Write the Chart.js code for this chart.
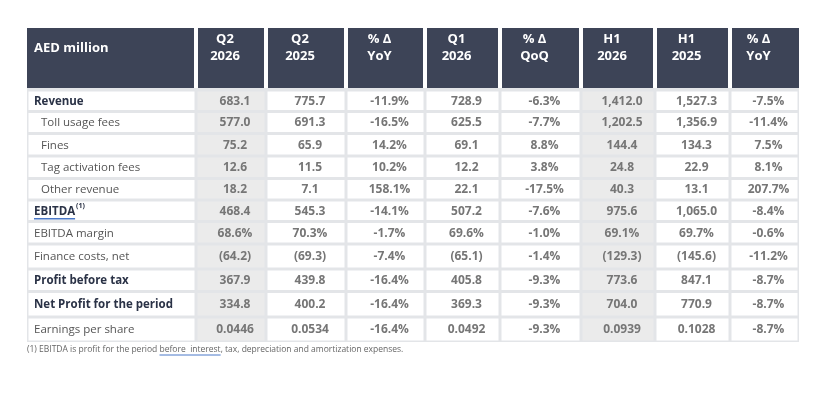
<!DOCTYPE html>
<html>
<head>
<meta charset="utf-8">
<script src="https://cdn.jsdelivr.net/npm/chart.js@4.4.1/dist/chart.umd.min.js"></script>
<style>
  html, body { margin: 0; padding: 0; background: #fff; }
  canvas { display: block; }
</style>
</head>
<body>
<canvas id="results-table" width="838" height="412"></canvas>
<script>
// column headers and row labels
const colHeaders = ['AED million', 'Q2\n2026', 'Q2\n2025', '% Δ\nYoY', 'Q1\n2026', '% Δ\nQoQ', 'H1\n2026', 'H1\n2025', '% Δ\nYoY'];
const rowLabels = ['Revenue', 'Toll usage fees', 'Fines', 'Tag activation fees', 'Other revenue', 'EBITDA',
  'EBITDA margin', 'Finance costs, net', 'Profit before tax', 'Net Profit for the period', 'Earnings per share'];

// values per column (AED million, % or AED per share)
const q2_2026 = [683.1, 577.0, 75.2, 12.6, 18.2, 468.4, 68.6, -64.2, 367.9, 334.8, 0.0446];
const q2_2025 = [775.7, 691.3, 65.9, 11.5, 7.1, 545.3, 70.3, -69.3, 439.8, 400.2, 0.0534];
const yoy_q2 = [-11.9, -16.5, 14.2, 10.2, 158.1, -14.1, -1.7, -7.4, -16.4, -16.4, -16.4];
const q1_2026 = [728.9, 625.5, 69.1, 12.2, 22.1, 507.2, 69.6, -65.1, 405.8, 369.3, 0.0492];
const qoq = [-6.3, -7.7, 8.8, 3.8, -17.5, -7.6, -1.0, -1.4, -9.3, -9.3, -9.3];
const h1_2026 = [1412.0, 1202.5, 144.4, 24.8, 40.3, 975.6, 69.1, -129.3, 773.6, 704.0, 0.0939];
const h1_2025 = [1527.3, 1356.9, 134.3, 22.9, 13.1, 1065.0, 69.7, -145.6, 847.1, 770.9, 0.1028];
const yoy_h1 = [-7.5, -11.4, 7.5, 8.1, 207.7, -8.4, -0.6, -11.2, -8.7, -8.7, -8.7];

const rowKind = ['amt', 'amt', 'amt', 'amt', 'amt', 'amt', 'pct', 'amt', 'amt', 'amt', 'eps'];
const boldRows = [true, false, false, false, false, true, false, false, true, true, false];
const indentRows = [0, 1, 1, 1, 1, 0, 0, 0, 0, 0, 0];

const footnote = ['(1) EBITDA is profit for the period ', 'before  interest', ', tax, depreciation and amortization expenses.'];

// layout (scale units)
const colWidths = [169, 70, 80, 79, 75, 81, 74, 75, 69];
const headerHeight = 60;
const headerGap = 2;
const rowHeights = [21.5, 22, 22.5, 22.5, 21.5, 21.5, 22.5, 25, 22.5, 25.5, 25];
const highlightCols = [1, 6];

const FONT = '"Open Sans", "Noto Sans", sans-serif';

function fmtAmount(v, kind) {
  if (kind === 'eps') return v.toFixed(4);
  if (kind === 'pct') return v.toFixed(1) + '%';
  const s = Math.abs(v).toLocaleString('en-US', { minimumFractionDigits: 1, maximumFractionDigits: 1 });
  return v < 0 ? '(' + s + ')' : s;
}
function fmtChange(v) {
  return v.toFixed(1) + '%';
}

const columns = [
  { values: q2_2026, change: false },
  { values: q2_2025, change: false },
  { values: yoy_q2, change: true },
  { values: q1_2026, change: false },
  { values: qoq, change: true },
  { values: h1_2026, change: false },
  { values: h1_2025, change: false },
  { values: yoy_h1, change: true }
];

const totalWidth = colWidths.reduce((a, b) => a + b, 0);
const totalHeight = headerHeight + headerGap + rowHeights.reduce((a, b) => a + b, 0);

const tablePlugin = {
  id: 'tableCells',
  afterDraw(chart) {
    const { ctx, scales: { x, y } } = chart;
    const px = v => x.getPixelForValue(v);
    const py = v => y.getPixelForValue(v);
    const edges = [0];
    colWidths.forEach(w => edges.push(edges[edges.length - 1] + w));
    const rowTops = [];
    let acc = headerHeight + headerGap;
    rowHeights.forEach(h => { rowTops.push(acc); acc += h; });
    const last = colWidths.length - 1;

    ctx.save();
    // header cells
    ctx.fillStyle = '#3d4457';
    for (let c = 0; c <= last; c++) {
      const l = px(edges[c]) + (c > 0 ? 2 : 0);
      const r = px(edges[c + 1]) - (c < last ? 2 : 0);
      ctx.fillRect(l, py(0), r - l, py(headerHeight) - py(0));
    }
    // header text
    ctx.fillStyle = '#ffffff';
    ctx.font = 'bold 13px ' + FONT;
    ctx.textBaseline = 'middle';
    for (let c = 0; c <= last; c++) {
      const lines = colHeaders[c].split('\n');
      if (c === 0) {
        ctx.textAlign = 'left';
        ctx.fillText(lines[0], px(edges[0]) + 7, py(20));
      } else {
        ctx.textAlign = 'center';
        const cx = (px(edges[c]) + px(edges[c + 1])) / 2 - 6;
        lines.forEach((t, i) => ctx.fillText(t, cx, py(11 + i * 17.5)));
      }
    }

    // table background
    ctx.fillStyle = '#e3e5e8';
    ctx.fillRect(px(0), py(headerHeight), px(totalWidth) - px(0), py(totalHeight) - py(headerHeight));

    // body cells
    for (let r = 0; r < rowLabels.length; r++) {
      const top = py(rowTops[r]) + 1.5;
      const bot = py(rowTops[r] + rowHeights[r]) - 1.5;
      for (let c = 0; c <= last; c++) {
        const l = px(edges[c]) + 1.5;
        const rr = px(edges[c + 1]) - 1.5;
        ctx.fillStyle = highlightCols.includes(c) ? '#ebebeb' : '#ffffff';
        ctx.fillRect(l, top, rr - l, bot - top);
      }
      const cy = (top + bot) / 2 + 0.5;
      // row label
      ctx.textAlign = 'left';
      ctx.font = (boldRows[r] ? 'bold ' : '') + '11.5px ' + FONT;
      ctx.fillStyle = boldRows[r] ? '#2a3246' : '#555555';
      const lx = px(0) + 7 + indentRows[r] * 7;
      ctx.fillText(rowLabels[r], lx, cy);
      if (rowLabels[r] === 'EBITDA') {
        const w = ctx.measureText(rowLabels[r]).width;
        ctx.font = 'bold 7px ' + FONT;
        ctx.fillText('(1)', lx + w + 1, cy - 5);
        ctx.strokeStyle = '#4a78c8';
        ctx.lineWidth = 1.5;
        ctx.beginPath();
        ctx.moveTo(lx, cy + 7.5);
        ctx.lineTo(lx + w, cy + 7.5);
        ctx.stroke();
      }
      // values
      ctx.font = 'bold 12px ' + FONT;
      ctx.fillStyle = '#767676';
      ctx.textAlign = 'center';
      columns.forEach((col, i) => {
        const c = i + 1;
        const cx = (px(edges[c]) + px(edges[c + 1])) / 2 + 4;
        const v = col.values[r];
        ctx.fillText(col.change ? fmtChange(v) : fmtAmount(v, rowKind[r]), cx, cy);
      });
    }

    // footnote
    ctx.font = '8.5px ' + FONT;
    ctx.fillStyle = '#666666';
    ctx.textAlign = 'left';
    let fx = px(0);
    const fy = py(totalHeight) + 8;
    footnote.forEach((t, i) => {
      ctx.fillText(t, fx, fy);
      const w = ctx.measureText(t).width;
      if (i === 1) {
        ctx.strokeStyle = '#4a78c8';
        ctx.lineWidth = 1;
        ctx.beginPath();
        ctx.moveTo(fx, fy + 5);
        ctx.lineTo(fx + w, fy + 5);
        ctx.stroke();
      }
      fx += w;
    });
    ctx.restore();
  }
};

new Chart(document.getElementById('results-table'), {
  type: 'scatter',
  data: { labels: rowLabels, datasets: [] },
  options: {
    responsive: false,
    animation: false,
    layout: { padding: { left: 27, right: 838 - 27 - totalWidth, top: 28, bottom: 412 - 28 - totalHeight } },
    plugins: { legend: { display: false }, tooltip: { enabled: false } },
    scales: {
      x: { type: 'linear', display: false, min: 0, max: totalWidth },
      y: { type: 'linear', display: false, min: 0, max: totalHeight, reverse: true }
    }
  },
  plugins: [tablePlugin]
});
</script>
</body>
</html>
